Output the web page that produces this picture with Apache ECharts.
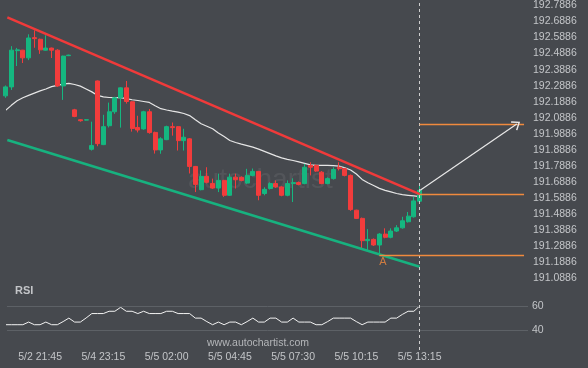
<!DOCTYPE html>
<html><head><meta charset="utf-8">
<script src="https://cdn.jsdelivr.net/npm/echarts@6/dist/echarts.min.js"></script>
<style>html,body{margin:0;padding:0;background:#46494e;}#c{width:588px;height:368px;}</style>
</head><body><div id="c"></div>
<script>
// ---- data ----
const opens = [
 192.225,192.281,192.507,192.510,192.462,192.588,192.578,192.510,192.523,192.510,
 192.287,192.476,192.138,192.076,192.074,191.892,192.318,191.921,192.039,192.126,
 192.213,192.275,192.188,192.028,192.019,192.126,191.997,191.888,191.952,192.033,
 192.033,191.946,191.957,191.785,191.640,191.723,191.679,191.650,191.698,191.605,
 191.718,191.717,191.681,191.729,191.754,191.616,191.647,191.678,191.657,191.605,
 191.678,191.684,191.678,191.791,191.791,191.749,191.678,191.709,191.780,191.771,
 191.729,191.512,191.461,191.322,191.330,191.295,191.363,191.343,191.382,191.402,
 191.440,191.471,191.568];
const closes = [
 192.281,192.510,192.512,192.462,192.586,192.582,192.512,192.523,192.510,192.287,
 192.473,192.479,192.097,192.070,192.076,191.915,191.927,192.033,192.126,192.213,
 192.275,192.190,192.022,192.012,192.126,191.996,191.888,191.957,192.033,192.027,
 191.946,191.967,191.785,191.673,191.723,191.686,191.650,191.698,191.605,191.718,
 191.702,191.698,191.729,191.754,191.605,191.642,191.678,191.657,191.605,191.678,
 191.684,191.673,191.780,191.780,191.756,191.678,191.709,191.766,191.771,191.729,
 191.516,191.461,191.322,191.330,191.295,191.363,191.343,191.382,191.402,191.446,
 191.475,191.570,191.636];
const lows = [
 192.213,192.262,192.411,192.430,192.448,192.525,192.487,192.507,192.461,192.281,
 192.200,192.473,192.092,192.064,192.072,191.884,191.911,191.918,192.028,192.113,
 192.027,192.177,192.002,191.997,192.014,191.989,191.865,191.864,191.949,191.977,
 191.884,191.884,191.741,191.625,191.636,191.679,191.645,191.625,191.595,191.602,
 191.647,191.692,191.676,191.723,191.574,191.605,191.641,191.651,191.599,191.599,
 191.563,191.667,191.674,191.729,191.751,191.674,191.674,191.703,191.760,191.723,
 191.508,191.457,191.264,191.264,191.289,191.233,191.337,191.337,191.376,191.397,
 191.435,191.466,191.565];
const highs = [
 192.290,192.535,192.524,192.512,192.609,192.634,192.582,192.603,192.526,192.516,
 192.476,192.482,192.144,192.079,192.078,192.064,192.321,192.107,192.183,192.219,
 192.278,192.318,192.191,192.101,192.132,192.143,192.002,191.967,192.039,192.059,
 192.036,192.020,191.962,191.788,191.760,191.780,191.709,191.740,191.701,191.740,
 191.740,191.723,191.770,191.772,191.757,191.655,191.686,191.698,191.661,191.698,
 191.711,191.691,191.801,191.811,191.797,191.756,191.717,191.780,191.811,191.776,
 191.735,191.515,191.466,191.394,191.336,191.369,191.399,191.399,191.419,191.471,
 191.501,191.595,191.671];
const movingAvg = [
 192.135,192.166,192.195,192.213,192.228,192.242,192.256,192.268,192.283,192.291,
 192.298,192.303,192.296,192.286,192.268,192.250,192.228,192.219,192.215,192.214,
 192.214,192.208,192.201,192.196,192.190,192.184,192.163,192.145,192.137,192.130,
 192.124,192.115,192.102,192.076,192.051,192.036,192.020,191.994,191.971,191.947,
 191.934,191.924,191.915,191.905,191.893,191.879,191.865,191.851,191.838,191.829,
 191.822,191.813,191.804,191.795,191.791,191.791,191.791,191.790,191.787,191.777,
 191.763,191.738,191.704,191.683,191.666,191.648,191.636,191.626,191.616,191.609,
 191.605,191.601,191.597];
const rsi = [
 44.4,44.4,44.4,44.4,46.6,44.4,44.4,46.6,44.4,44.4,
 47.0,49.9,46.6,46.6,50.0,53.7,53.7,53.7,55.6,55.6,
 58.9,55.6,55.6,53.7,55.6,53.7,53.7,53.7,55.6,55.6,
 53.7,53.7,53.7,49.9,49.9,47.0,44.4,46.6,44.4,46.6,
 46.6,44.4,47.0,49.9,46.6,46.6,49.9,49.9,46.6,46.6,
 49.9,46.6,46.6,46.6,44.4,44.4,47.0,49.9,49.9,49.9,
 49.9,47.0,44.4,46.6,46.6,46.6,46.6,49.9,49.9,53.0,
 55.6,55.6,60.0];
const priceTicks = [192.7886,192.6886,192.5886,192.4886,192.3886,192.2886,192.1886,192.0886,
  191.9886,191.8886,191.7886,191.6886,191.5886,191.4886,191.3886,191.2886,191.1886,191.0886];
const rsiTicks = [40, 60];
const xLabelIndex = [6, 17, 28, 39, 50, 61, 72];
const xLabels = ['5/2 21:45','5/4 23:15','5/5 02:00','5/5 04:45','5/5 07:30','5/5 10:15','5/5 13:15'];
const upperTrend = [[0.3, 192.715], [72, 191.612]];
const lowerTrend = [[0.3, 191.950], [72, 191.159]];
const breakoutLevel = 191.609;
const targetLevel = 192.0495;
const supportLevel = 191.231;
const supportStart = 65;
const lastIndex = 72;
const levelEnd = 90.16;
const arrowFrom = [72.1, 191.636];
const arrowTo = [88.9, 192.049];
const pointA = [65.6, 191.19];

// ---- chart ----
const bg = '#46494e', labelColor = '#c3c5c8', fontFam = '"Liberation Sans", Arial, sans-serif';
const orange = '#f08a3e';
const candles = opens.map((o, i) => [i, o, closes[i], lows[i], highs[i]]);
const xMin = 0.243, xMax = 90.85;

const chart = echarts.init(document.getElementById('c'), null, {renderer: 'canvas'});
chart.setOption({
  backgroundColor: bg,
  animation: false,
  grid: [
    {left: 7, right: 60, top: 0, height: 294},
    {left: 7, right: 60, top: 294, height: 56}
  ],
  xAxis: [
    {gridIndex: 0, type: 'value', min: xMin, max: xMax, show: false},
    {gridIndex: 1, type: 'value', min: xMin, max: xMax,
     axisLine: {show: false}, axisTick: {show: false}, splitLine: {show: false},
     axisLabel: {customValues: xLabelIndex, margin: 2, color: labelColor, fontSize: 10.5, fontFamily: fontFam,
       formatter: v => xLabels[xLabelIndex.indexOf(Math.round(v))] || ''}}
  ],
  yAxis: [
    {gridIndex: 0, type: 'value', position: 'right', min: 190.9894, max: 192.8134,
     axisLine: {show: false}, axisTick: {show: false}, splitLine: {show: false},
     axisLabel: {customValues: priceTicks, margin: 5, color: labelColor, fontSize: 10.5, fontFamily: fontFam,
       formatter: v => v.toFixed(4)}},
    {gridIndex: 1, type: 'value', position: 'right', min: 23.33, max: 70,
     axisLine: {show: false}, axisTick: {show: false}, splitLine: {show: false},
     axisLabel: {customValues: rsiTicks, margin: 4, color: labelColor, fontSize: 10.5, fontFamily: fontFam}}
  ],
  series: [
    {type: 'line', xAxisIndex: 0, yAxisIndex: 0, data: movingAvg.map((v, i) => [i, v]),
     symbol: 'none', lineStyle: {color: '#e6e6e6', width: 1.2}, z: 1,
     markLine: {silent: true, symbol: 'none', label: {show: false},
       lineStyle: {color: '#cfcfcf', type: [3, 3], width: 1},
       data: [{xAxis: lastIndex}]}},
    {type: 'candlestick', xAxisIndex: 0, yAxisIndex: 0, data: candles,
     encode: {x: 0, y: [1, 2, 3, 4]}, barWidth: 4.5, z: 2,
     itemStyle: {color: '#15b780', color0: '#f23c3c', borderColor: '#15b780', borderColor0: '#f23c3c', borderWidth: 1}},
    {type: 'line', xAxisIndex: 0, yAxisIndex: 0, data: upperTrend, symbol: 'none', z: 3,
     lineStyle: {color: '#f03a3a', width: 2.5}},
    {type: 'line', xAxisIndex: 0, yAxisIndex: 0, data: lowerTrend, symbol: 'none', z: 3,
     lineStyle: {color: '#17b27f', width: 2.5}},
    {type: 'line', xAxisIndex: 0, yAxisIndex: 0, data: [], z: 4,
     markLine: {silent: true, symbol: 'none', label: {show: false}, animation: false,
       lineStyle: {color: orange, type: 'solid', width: 1.3},
       data: [
         [{coord: [lastIndex, breakoutLevel]}, {coord: [levelEnd, breakoutLevel]}],
         [{coord: [lastIndex, targetLevel]}, {coord: [levelEnd, targetLevel]}],
         [{coord: [supportStart, supportLevel]}, {coord: [levelEnd, supportLevel]}]
       ]}},
    {type: 'line', xAxisIndex: 0, yAxisIndex: 0, data: [], z: 5,
     markLine: {silent: true, label: {show: false},
       symbol: ['none', 'path://M6,0 L12,7 L10.8,8 L6,2.2 L1.2,8 L0,7 Z'], symbolSize: [11, 8],
       itemStyle: {color: '#e8e8e8'},
       lineStyle: {color: '#e8e8e8', type: 'solid', width: 1.2},
       data: [[{coord: arrowFrom}, {coord: arrowTo}]]}},
    {type: 'scatter', xAxisIndex: 0, yAxisIndex: 0, data: [pointA], symbolSize: 2,
     itemStyle: {color: 'rgba(0,0,0,0)'}, z: 6,
     label: {show: true, position: 'inside', formatter: 'A', color: orange, fontSize: 11, fontFamily: fontFam}},
    {type: 'line', xAxisIndex: 1, yAxisIndex: 1, data: rsi.map((v, i) => [i, v]),
     symbol: 'none', lineStyle: {color: '#f2f2f2', width: 1}, z: 3,
     markLine: {silent: true, symbol: 'none', label: {show: false},
       data: [
         {yAxis: 60, lineStyle: {color: '#5d6166', type: 'solid', width: 1}},
         {yAxis: 40, lineStyle: {color: '#5d6166', type: 'solid', width: 1}},
         {xAxis: lastIndex, lineStyle: {color: '#cfcfcf', type: [3, 3], width: 1}}
       ]}}
  ],
  graphic: [
    {type: 'text', left: 188, top: 166, z: 0, silent: true,
     style: {text: 'autochartist', fill: 'rgba(255,255,255,0.07)', font: '28px ' + fontFam}},
    {type: 'text', left: 15, top: 285, silent: true,
     style: {text: 'RSI', fill: labelColor, font: 'bold 11px ' + fontFam}},
    {type: 'text', left: 207, top: 338, silent: true,
     style: {text: 'www.autochartist.com', fill: '#b4b6b9', font: '10.5px ' + fontFam}}
  ]
});
</script></body></html>
